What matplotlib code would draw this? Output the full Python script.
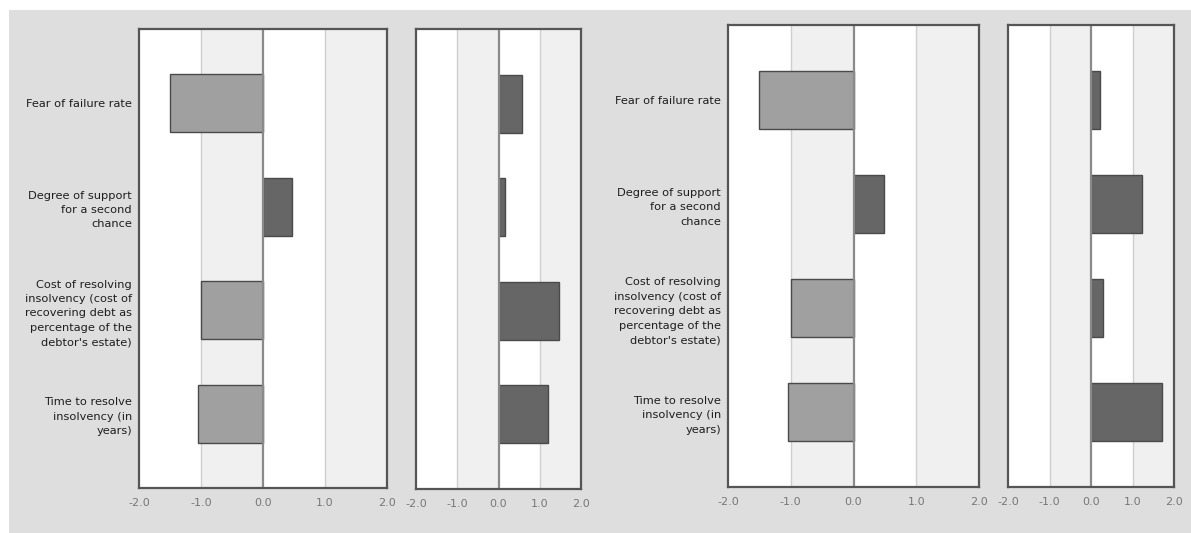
import matplotlib
matplotlib.use("Agg")
import matplotlib.pyplot as plt
from matplotlib.patches import Rectangle

# Indicator names (shared by both country blocks)
categories = [
    "Fear of failure rate",
    "Degree of support\nfor a second\nchance",
    "Cost of resolving\ninsolvency (cost of\nrecovering debt as\npercentage of the\ndebtor's estate)",
    "Time to resolve\ninsolvency (in\nyears)",
]

# Standardised scores, first block
block1_main = [-1.5, 0.47, -1.0, -1.05]
block1_side = [0.58, 0.15, 1.46, 1.2]

# Standardised scores, second block
block2_main = [-1.5, 0.48, -1.0, -1.04]
block2_side = [0.22, 1.23, 0.3, 1.72]

x_ticks = [-2.0, -1.0, 0.0, 1.0, 2.0]

W, H = 1191, 533
fig = plt.figure(figsize=(W / 100, H / 100), dpi=100)
fig.patch.set_facecolor("white")
fig.patches.append(Rectangle((9 / W, 0), 1 - 9 / W, (H - 10) / H,
                             transform=fig.transFigure, facecolor="#dedede",
                             edgecolor="none", zorder=-10))

TEXT = "#1e1e1e"
TICK = "#777777"
LIGHT_BAR = "#a0a0a0"
DARK_BAR = "#666666"


def make_axes(left, right, top, bottom):
    ax = fig.add_axes([left / W, (H - bottom) / H, (right - left) / W, (bottom - top) / H])
    ax.set_zorder(1)
    return ax


def draw_panel(ax, values, show_labels):
    ax.set_facecolor("white")
    ax.set_xlim(x_ticks[0], x_ticks[-1])
    ax.set_ylim(len(values) - 1 + 0.72, -0.72)
    # alternating vertical bands
    ax.axvspan(-1, 0, color="#f0f0f0", zorder=0, lw=0)
    ax.axvspan(1, 2, color="#f0f0f0", zorder=0, lw=0)
    for g in (-1, 1):
        ax.axvline(g, color="#cfcfcf", lw=1.0, zorder=1)
    ys = list(range(len(values)))
    colors = [DARK_BAR if v >= 0 else LIGHT_BAR for v in values]
    ax.barh(ys, values, height=0.56, color=colors, edgecolor="#4a4a4a",
            linewidth=1.0, zorder=2)
    ax.axvline(0, color="#8a8a8a", lw=1.6, zorder=3)
    for s in ax.spines.values():
        s.set_color("#555555")
        s.set_linewidth(1.6)
        s.set_zorder(5)
    ax.set_xticks(x_ticks)
    ax.set_xticklabels([f"{t:.1f}" for t in x_ticks], fontsize=8, color=TICK)
    ax.tick_params(axis="x", length=0, pad=7)
    ax.set_yticks(ys)
    if show_labels:
        labels = ax.set_yticklabels(categories, fontsize=8.2, color=TEXT)
        for lab in labels:
            lab.set_linespacing(1.55)
        ax.tick_params(axis="y", length=0, pad=5)
    else:
        ax.set_yticklabels([])
        ax.tick_params(axis="y", length=0)


draw_panel(make_axes(139, 387, 29, 488), block1_main, True)
draw_panel(make_axes(416, 581, 29, 489), block1_side, False)
draw_panel(make_axes(728, 979, 25, 487), block2_main, True)
draw_panel(make_axes(1008, 1174, 25, 487), block2_side, False)

fig.savefig("out.png", dpi=100, facecolor=fig.get_facecolor())
